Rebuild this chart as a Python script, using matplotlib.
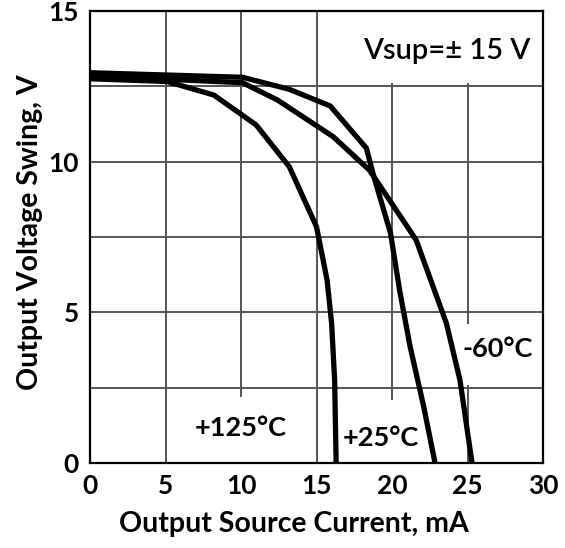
import matplotlib
matplotlib.use("Agg")
import matplotlib.pyplot as plt
from matplotlib.patches import Rectangle

plt.rcParams['font.family'] = ['Lato', 'DejaVu Sans']

# +125°C curve
x_125 = [0, 5.1, 8.2, 11.0, 13.2, 15.0, 15.7, 16.0, 16.2, 16.3]
y_125 = [12.75, 12.66, 12.21, 11.22, 9.83, 7.84, 6.07, 4.64, 2.75, 0]
# +25°C curve
x_25 = [0, 10.1, 13.2, 15.9, 18.3, 18.8, 19.9, 20.5, 21.2, 22.1, 22.85]
y_25 = [12.95, 12.8, 12.4, 11.85, 10.45, 9.5, 7.63, 5.74, 3.86, 1.87, 0]
# -60°C curve
x_60 = [0, 10.1, 12.4, 16.1, 18.5, 19.2, 21.6, 23.6, 24.5, 25.3]
y_60 = [12.85, 12.62, 12.05, 10.83, 9.72, 9.2, 7.4, 4.64, 2.75, 0]

x_ticks = [0, 5, 10, 15, 20, 25, 30]
y_ticks = [0, 5, 10, 15]
y_grid = [2.5, 5, 7.5, 10, 12.5]

fig = plt.figure(figsize=(5.65, 5.48), dpi=100)
ax = fig.add_axes([0.1593, 0.155, 0.8018, 0.825])
ax.set_xlim(0, 30)
ax.set_ylim(0, 15)

for xv in x_ticks[1:-1]:
    ax.axvline(xv, color='#555555', lw=1.4, zorder=0.5)
for yv in y_grid:
    ax.axhline(yv, color='#555555', lw=1.4, zorder=0.5)

# white masks behind labels
for (x0, y0, w, h) in [(15.8, 12.6, 14.2, 2.4), (24.6, 2.6, 5.2, 2.0),
                       (6.8, 0.05, 6.4, 2.15), (16.7, 0.05, 5.1, 2.05)]:
    ax.add_patch(Rectangle((x0, y0), w, h, facecolor='white', edgecolor='none', zorder=1))

for xs, ys in [(x_125, y_125), (x_25, y_25), (x_60, y_60)]:
    ax.plot(xs, ys, color='black', lw=3.8, solid_joinstyle='round', solid_capstyle='butt', zorder=2)

ax.text(29.15, 13.67, 'Vsup=± 15 V', ha='right', va='center', fontsize=21, fontweight='semibold', zorder=3)
ax.text(9.97, 1.16, '+125°C', ha='center', va='center', fontsize=19.5, fontweight='bold', zorder=3)
ax.text(16.75, 0.83, '+25°C', ha='left', va='center', fontsize=19.5, fontweight='bold', zorder=3)
ax.text(24.7, 3.78, '-60°C', ha='left', va='center', fontsize=19.5, fontweight='bold', zorder=3)

ax.set_xticks(x_ticks)
ax.set_yticks(y_ticks)
ax.tick_params(length=0, labelsize=19, pad=8)
for lab in ax.get_xticklabels() + ax.get_yticklabels():
    lab.set_fontweight('bold')
ax.set_xlabel('Output Source Current, mA', fontsize=20.5, fontweight='bold')
ax.set_ylabel('Output Voltage Swing, V', fontsize=20.5, fontweight='bold')
ax.xaxis.set_label_coords(0.449, -0.105)
ax.yaxis.set_label_coords(-0.103, 0.51)

for s in ax.spines.values():
    s.set_linewidth(1.6)
    s.set_color('black')

fig.savefig('out.png', dpi=100)
